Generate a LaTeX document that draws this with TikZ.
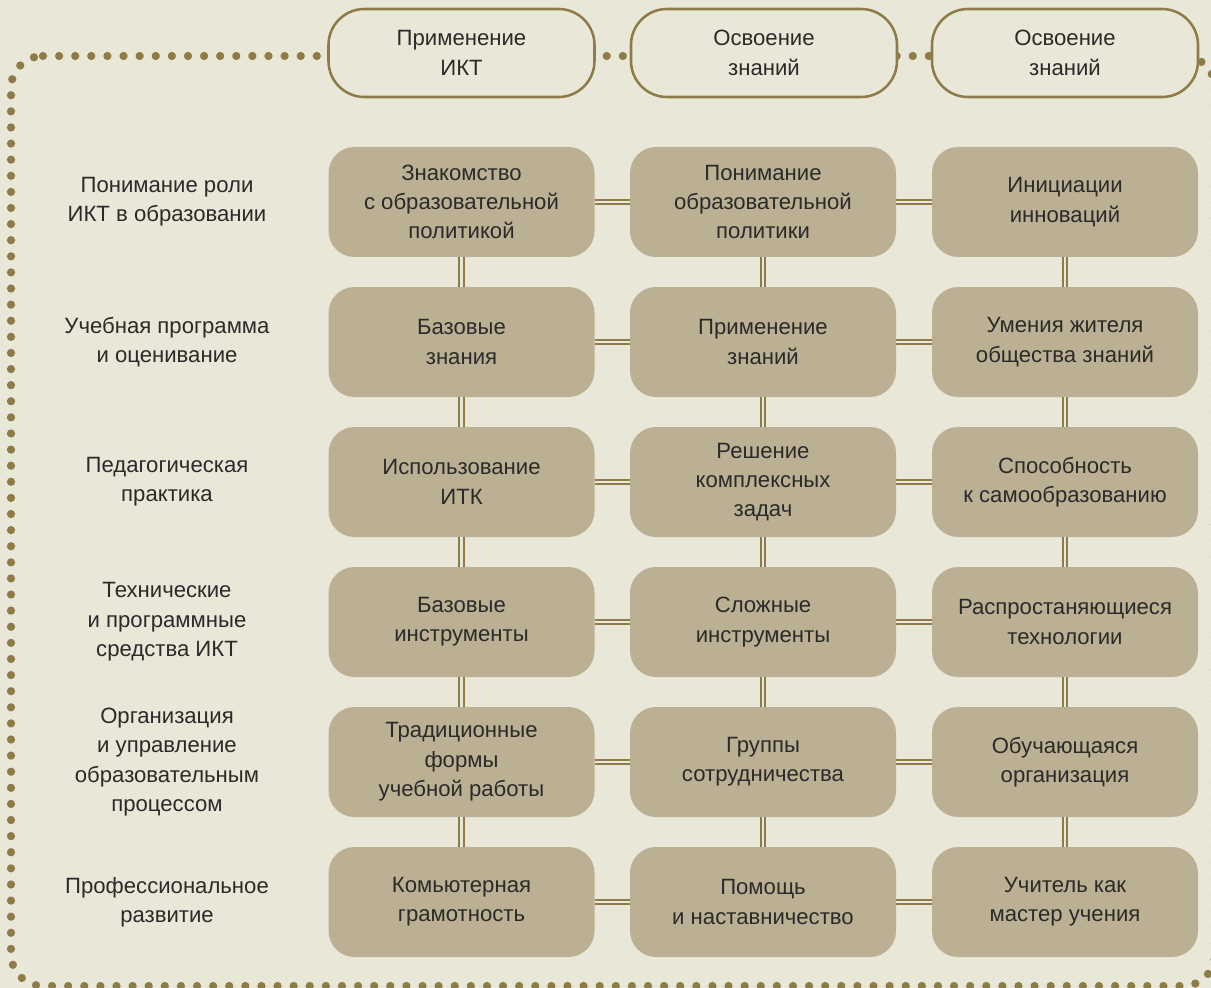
\documentclass[tikz,border=0pt]{standalone}
\usepackage{fontspec}
\setmainfont{Liberation Sans}
\definecolor{bg}{HTML}{E9E7D8}
\definecolor{boxfill}{HTML}{BBB094}
\definecolor{olive}{HTML}{8D7C48}
\definecolor{txt}{HTML}{2B2A28}
\tikzset{
  txtstyle/.style={font=\fontsize{16.6}{22}\selectfont, text=txt, align=center},
  cellbox/.style={txtstyle, rectangle, fill=boxfill, rounded corners=19.5pt,
    minimum width=199.5pt, minimum height=82.5pt, inner sep=0pt, outer sep=0pt},
  headbox/.style={txtstyle, rectangle, fill=bg, draw=olive, line width=1.9pt,
    rounded corners=27pt, minimum width=199.5pt, minimum height=66pt, inner sep=0pt, outer sep=0pt},
  rowlabel/.style={txtstyle},
  dbl/.style={draw=olive, line width=1.5pt, double=bg, double distance=1.9pt},
  dotborder/.style={draw=olive, line width=6.2pt, line cap=round, dash pattern=on 0pt off 12.08pt}
}
\begin{document}
\begin{tikzpicture}[x=0.75pt,y=-0.75pt]
\fill[bg] (0,0) rectangle (1211,988);
\useasboundingbox (0,0) rectangle (1211,988);
% dotted border
\draw[dotborder] (43,56) -- (1183,56) arc[start angle=270, end angle=360, radius=32]
  -- (1215,954) arc[start angle=0, end angle=90, radius=32]
  -- (43,986) arc[start angle=90, end angle=180, radius=32]
  -- (11,88) arc[start angle=180, end angle=270, radius=32];
% header boxes
\node[headbox] (h1) at (461.5,53) {Применение\\ИКТ};
\node[headbox] (h2) at (764,53) {Освоение\\знаний};
\node[headbox] (h3) at (1065,53) {Освоение\\знаний};
% row labels
\node[rowlabel] (l1) at (167,202) {Понимание роли\\ИКТ в образовании};
\node[rowlabel] (l2) at (167,342) {Учебная программа\\и оценивание};
\node[rowlabel] (l3) at (167,482) {Педагогическая\\практика};
\node[rowlabel] (l4) at (167,622) {Технические\\и программные\\средства ИКТ};
\node[rowlabel] (l5) at (167,762) {Организация\\и управление\\образовательным\\процессом};
\node[rowlabel] (l6) at (167,902) {Профессиональное\\развитие};
% row 1
\node[cellbox] (a1) at (461.5,202) {Знакомство\\с образовательной\\политикой};
\node[cellbox] (b1) at (763,202) {Понимание\\образовательной\\политики};
\node[cellbox] (c1) at (1065,202) {Инициации\\инноваций};
% row 2
\node[cellbox] (a2) at (461.5,342) {Базовые\\знания};
\node[cellbox] (b2) at (763,342) {Применение\\знаний};
\node[cellbox] (c2) at (1065,342) {Умения жителя\\общества знаний};
% row 3
\node[cellbox] (a3) at (461.5,482) {Использование\\ИТК};
\node[cellbox] (b3) at (763,482) {Решение\\комплексных\\задач};
\node[cellbox] (c3) at (1065,482) {Способность\\к самообразованию};
% row 4
\node[cellbox] (a4) at (461.5,622) {Базовые\\инструменты};
\node[cellbox] (b4) at (763,622) {Сложные\\инструменты};
\node[cellbox] (c4) at (1065,622) {Распростаняющиеся\\технологии};
% row 5
\node[cellbox] (a5) at (461.5,762) {Традиционные\\формы\\учебной работы};
\node[cellbox] (b5) at (763,762) {Группы\\сотрудничества};
\node[cellbox] (c5) at (1065,762) {Обучающаяся\\организация};
% row 6
\node[cellbox] (a6) at (461.5,902) {Комьютерная\\грамотность};
\node[cellbox] (b6) at (763,902) {Помощь\\и наставничество};
\node[cellbox] (c6) at (1065,902) {Учитель как\\мастер учения};
% connectors
\foreach \r in {1,...,6}{
  \draw[dbl] (a\r.east) -- (b\r.west);
  \draw[dbl] (b\r.east) -- (c\r.west);
}
\foreach \r/\s in {1/2,2/3,3/4,4/5,5/6}{
  \draw[dbl] (a\r.south) -- (a\s.north);
  \draw[dbl] (b\r.south) -- (b\s.north);
  \draw[dbl] (c\r.south) -- (c\s.north);
}
\end{tikzpicture}
\end{document}
